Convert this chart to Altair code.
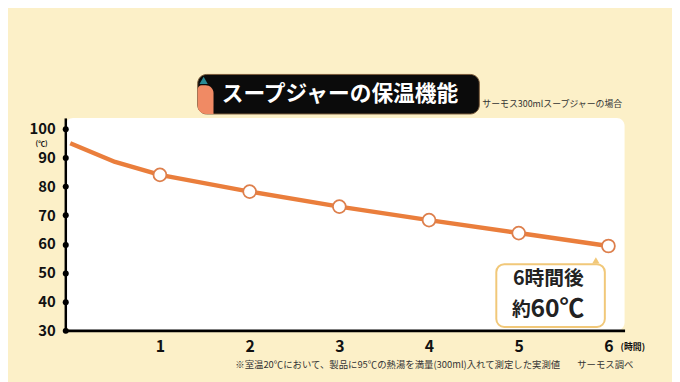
import altair as alt
import pandas as pd

# Data
hours = [0, 0.5, 1, 2, 3, 4, 5, 6]
temps = [95, 88.5, 84, 78.2, 73, 68.3, 63.8, 59.3]
marker_hours = [1, 2, 3, 4, 5, 6]
y_ticks = [30, 40, 50, 60, 70, 80, 90, 100]
x_ticks = [1, 2, 3, 4, 5, 6]

title_text = "スープジャーの保温機能"
subtitle_text = "サーモス300mlスープジャーの場合"
note_text = "※室温20℃において、製品に95℃の熱湯を満量(300ml)入れて測定した実測値"
source_text = "サーモス調べ"

JP = "Noto Sans CJK JP"
ORANGE = "#EA7E3C"

df = pd.DataFrame({"h": hours, "t": temps})
dm = df[df["h"].isin(marker_hours)]

xs = alt.Scale(domain=[-0.055, 6.18], nice=False, zero=False)
ys = alt.Scale(domain=[30, 103.8], nice=False, zero=False)

x_axis = alt.Axis(values=x_ticks, format="d", title=None, grid=False, ticks=False,
                  domainColor="black", domainWidth=3, labelFont=JP,
                  labelFontWeight="bold", labelFontSize=16, labelColor="#111",
                  labelPadding=8, labelOverlap=False)
y_axis = alt.Axis(values=y_ticks, format="d", title=None, grid=False, ticks=True,
                  tickSize=0.1, tickWidth=6, tickCap="round", tickColor="black",
                  domainColor="black", domainWidth=2.5, labelFont=JP,
                  labelFontWeight="bold", labelFontSize=15, labelColor="#111",
                  labelPadding=10, labelOverlap=False)


def X(field):
    return alt.X(field, scale=xs, axis=x_axis)


def Y(field):
    return alt.Y(field, scale=ys, axis=y_axis)


line = alt.Chart(df).mark_line(color=ORANGE, strokeWidth=4.5, strokeJoin="round").encode(
    x=X("h:Q"), y=Y("t:Q"))

points = alt.Chart(dm).mark_point(shape="circle", fill="white", fillOpacity=1,
                                  stroke="#DD7F4C", strokeWidth=1.8, size=170,
                                  opacity=1).encode(x=X("h:Q"), y=Y("t:Q"))

# Callout box near the 6-hour point
callout_df = pd.DataFrame({"x": [4.75], "x2": [5.96], "y": [53.0], "y2": [31.2]})
callout = alt.Chart(callout_df).mark_rect(fill="white", stroke="#F1C879",
                                          strokeWidth=2, cornerRadius=8).encode(
    x=X("x:Q"), x2="x2:Q", y=Y("y:Q"), y2="y2:Q")
tail = alt.Chart(pd.DataFrame({"x": [5.86], "y": [54.3]})).mark_point(
    shape="triangle-up", filled=True, color="#F1C879", size=55, opacity=1).encode(
    x=X("x:Q"), y=Y("y:Q"))
c_line1 = alt.Chart(pd.DataFrame({"x": [5.33], "y": [47.9], "s": ["6時間後"]})).mark_text(
    font=JP, fontWeight="bold", fontSize=20, color="#222").encode(
    x=X("x:Q"), y=Y("y:Q"), text="s:N")
c_line2a = alt.Chart(pd.DataFrame({"x": [5.03], "y": [37.2], "s": ["約"]})).mark_text(
    font=JP, fontWeight="bold", fontSize=19, color="#222").encode(
    x=X("x:Q"), y=Y("y:Q"), text="s:N")
c_line2b = alt.Chart(pd.DataFrame({"x": [5.13], "y": [37.4], "s": ["60℃"]})).mark_text(
    font=JP, fontWeight="bold", fontSize=25, color="#222", align="left").encode(
    x=X("x:Q"), y=Y("y:Q"), text="s:N")

# Title box (above the plot area)
title_box = alt.Chart(pd.DataFrame({"a": [0]})).mark_rect(
    color="#0B0B0B", cornerRadius=9, stroke="#7a5a3a", strokeWidth=1).encode(
    x=alt.value(134), x2=alt.value(419), y=alt.value(-44), y2=alt.value(-4))
deco1 = alt.Chart(pd.DataFrame({"a": [0]})).mark_rect(
    color="#F08A64", cornerRadiusBottomLeft=9, cornerRadiusTopRight=14,
    cornerRadiusTopLeft=4).encode(
    x=alt.value(134), x2=alt.value(150), y=alt.value(-33), y2=alt.value(-4))
deco2 = alt.Chart(pd.DataFrame({"a": [0]})).mark_point(
    shape="triangle-up", filled=True, color="#2A8A95", size=70, opacity=1).encode(
    x=alt.value(140), y=alt.value(-38))
title_t = alt.Chart(pd.DataFrame({"s": [title_text]})).mark_text(
    font=JP, fontWeight="bold", fontSize=22, color="white").encode(
    x=alt.value(278), y=alt.value(-24), text="s:N")
subtitle_t = alt.Chart(pd.DataFrame({"s": [subtitle_text]})).mark_text(
    font=JP, fontSize=9, color="#333", align="left").encode(
    x=alt.value(422), y=alt.value(-14), text="s:N")
yunit = alt.Chart(pd.DataFrame({"s": ["(℃)"]})).mark_text(
    font=JP, fontWeight="bold", fontSize=7, color="#111").encode(
    x=alt.value(-24), y=alt.value(26), text="s:N")
xunit = alt.Chart(pd.DataFrame({"s": ["(時間)"]})).mark_text(
    font=JP, fontWeight="bold", fontSize=9, color="#111", align="left").encode(
    x=alt.value(562), y=alt.value(232), text="s:N")
note_t = alt.Chart(pd.DataFrame({"s": [note_text]})).mark_text(
    font=JP, fontSize=9.5, color="#333", align="left").encode(
    x=alt.value(172), y=alt.value(250), text="s:N")
source_t = alt.Chart(pd.DataFrame({"s": [source_text]})).mark_text(
    font=JP, fontSize=9.5, color="#333", align="left").encode(
    x=alt.value(518), y=alt.value(250), text="s:N")

chart = alt.layer(
    line, points, callout, tail, c_line1, c_line2a, c_line2b,
    title_box, deco1, deco2, title_t, subtitle_t, yunit, xunit, note_t, source_t
).properties(
    width=566, height=215,
    autosize=alt.AutoSizeParams(type="none"),
    padding={"left": 58, "top": 109, "right": 48, "bottom": 50},
).configure(
    background="#FCF0C8",
).configure_view(
    fill="white", stroke=None, cornerRadius=8,
)

chart.save("out.html", embed_options={"renderer": "svg", "actions": False})
